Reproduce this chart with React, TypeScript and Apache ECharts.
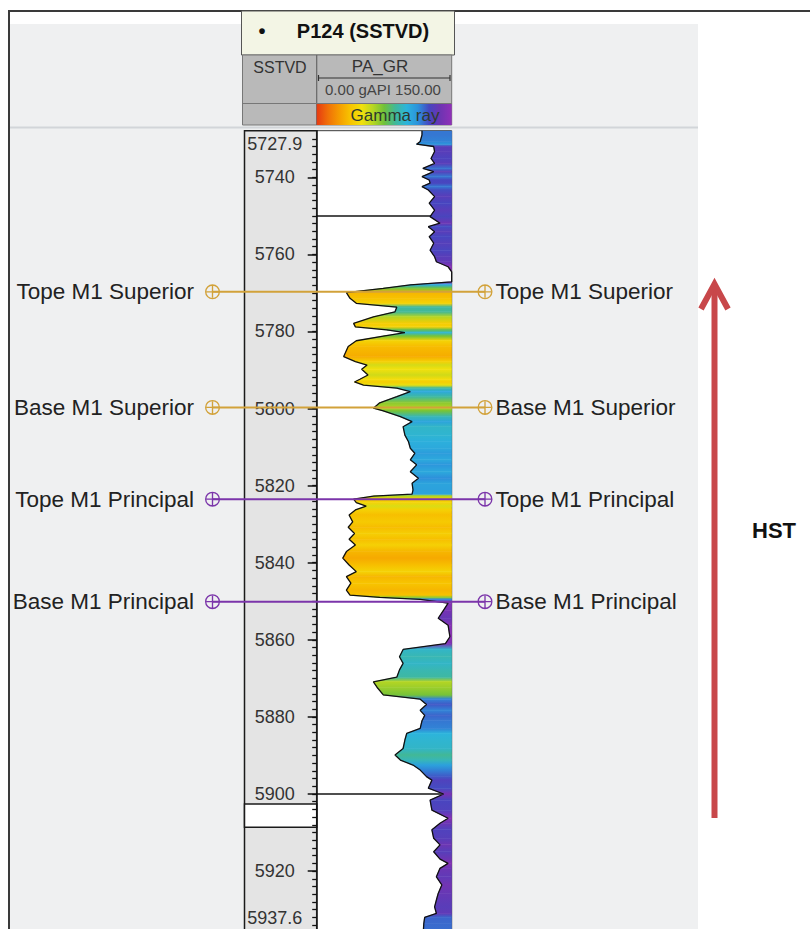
import React, { useEffect, useRef } from "react";
import * as echarts from "echarts";

// Depth window of the log (SSTVD, metres) and gamma-ray scale (gAPI)
const DEPTH_MIN = 5727.9;
const DEPTH_MAX = 5937.6;
const GR_MIN = 0;
const GR_MAX = 150;

const depthLabels = [5740, 5760, 5780, 5800, 5820, 5840, 5860, 5880, 5900, 5920];
const depthEdgeLabels = [5727.9, 5937.6];

// PA_GR curve samples
const grDepth = [
  5727.9, 5729.0, 5730.7, 5731.4, 5732.0, 5733.3, 5735.1, 5736.4, 5737.7, 5738.5,
  5739.8, 5740.7, 5741.5, 5742.4, 5743.3, 5745.0, 5746.7, 5748.5, 5750.2, 5751.9,
  5752.8, 5754.1, 5755.4, 5757.1, 5758.9, 5760.6, 5761.9, 5763.2, 5764.5, 5767.1,
  5767.9, 5768.8, 5769.9, 5771.4, 5772.7, 5773.7, 5774.9, 5776.2, 5777.9, 5778.8,
  5779.6, 5780.3, 5781.2, 5782.4, 5783.9, 5786.5, 5787.8, 5788.7, 5789.8, 5791.3,
  5792.4, 5793.1, 5793.9, 5794.7, 5795.6, 5796.9, 5798.5, 5799.9, 5800.6, 5802.1,
  5803.4, 5804.7, 5806.9, 5808.6, 5810.3, 5811.6, 5813.3, 5814.6, 5816.4, 5818.1,
  5819.4, 5821.1, 5822.2, 5822.7, 5823.5, 5824.4, 5825.3, 5826.3, 5827.6, 5829.4,
  5830.8, 5832.4, 5833.9, 5835.4, 5837.1, 5838.8, 5840.6, 5842.3, 5843.6, 5845.3,
  5847.1, 5848.4, 5849.0, 5849.5, 5850.5, 5852.3, 5854.4, 5856.2, 5859.2, 5861.0,
  5862.5, 5864.4, 5866.1, 5867.8, 5869.7, 5870.9, 5872.3, 5874.3, 5875.4, 5876.8,
  5878.3, 5879.6, 5881.0, 5883.0, 5884.3, 5886.0, 5888.2, 5889.9, 5891.2, 5892.5,
  5893.8, 5895.5, 5896.4, 5898.5, 5900.0, 5901.6, 5904.2, 5906.3, 5907.6, 5909.3,
  5911.5, 5913.2, 5915.0, 5916.9, 5918.0, 5919.3, 5921.5, 5923.6, 5925.8, 5927.5,
  5929.3, 5931.0, 5932.0, 5933.6, 5937.6,
];
const grValue = [
  117, 117, 115, 111, 130, 131, 127, 131, 118, 130,
  117, 125, 126, 117, 124, 131, 125, 131, 126, 137,
  124, 131, 125, 130, 126, 131, 133, 146, 150, 150,
  104, 74, 33, 37, 44, 89, 87, 63, 41, 43,
  78, 98, 74, 44, 35, 30, 43, 56, 50, 57,
  48, 42, 52, 89, 104, 89, 70, 63, 74, 93,
  106, 96, 98, 102, 104, 109, 104, 111, 104, 113,
  106, 107, 106, 63, 41, 44, 55, 43, 36, 40,
  35, 42, 36, 43, 33, 29, 36, 44, 33, 38,
  33, 37, 70, 115, 146, 141, 135, 146, 148, 143,
  96, 92, 96, 92, 89, 63, 67, 74, 115, 122,
  115, 120, 117, 115, 100, 98, 96, 87, 93, 107,
  115, 122, 128, 124, 141, 126, 128, 146, 137, 128,
  130, 137, 130, 137, 146, 137, 133, 139, 135, 133,
  131, 133, 120, 119, 118,
];

// Well tops
const markerNames = ["Tope M1 Superior", "Base M1 Superior", "Tope M1 Principal", "Base M1 Principal"];
const markerDepths = [5769.7, 5799.7, 5823.5, 5850.1];
const markerColors = ["#d2a23a", "#d2a23a", "#7b35aa", "#7b35aa"];

// Zone boundaries drawn across the GR track, and the gap in the depth track
const zoneBoundaries = [5750, 5900];
const depthGap = [5902.6, 5908.6];

// Gamma-ray colour ramp, low (sand) to high (shale), 0..150 in equal steps
const grColorRamp = [
  "#e63a12", "#f07008", "#f59c00", "#f7c400", "#f2e00c", "#b6d622", "#70c13a",
  "#40b89a", "#2cb4dc", "#2c92dc", "#4646c0", "#6e34b2", "#9030b8",
];

const FONT = "'Liberation Sans', Arial, sans-serif";

const grColor = (v: number) =>
  echarts.color.lerp(Math.min(1, Math.max(0, (v - GR_MIN) / (GR_MAX - GR_MIN))), grColorRamp) as string;

// Circle with a cross, used as the well-top marker symbol
const TOP_SYMBOL =
  "path://M10,0 A10,10 0 1,1 10,20 A10,10 0 1,1 10,0 Z " +
  "M10,1.8 A8.2,8.2 0 1,0 10,18.2 A8.2,8.2 0 1,0 10,1.8 Z " +
  "M1.95,9.1 L18.05,9.1 L18.05,10.9 L1.95,10.9 Z " +
  "M9.1,1.95 L10.9,1.95 L10.9,18.05 L9.1,18.05 Z";

const TRACK_TOP = 130.7;
const TRACK_HEIGHT = 808.2;
const DEPTH_LEFT = 244.5;
const DEPTH_RIGHT = 316.7;

export default function App() {
  const ref = useRef<HTMLDivElement>(null);

  useEffect(() => {
    if (!ref.current) return;
    const chart = echarts.init(ref.current, undefined, { renderer: "svg" });

    const minorTicks: number[] = [];
    for (let d = 5730; d <= 5936; d += 2) minorTicks.push(d);

    const grData = grValue.map((v, i) => [v, grDepth[i]]);
    const rampStops = grColorRamp.map((c, i) => ({ offset: i / (grColorRamp.length - 1), color: c }));

    const boundarySeries = zoneBoundaries.map((d) => ({
      type: "line",
      xAxisIndex: 1,
      yAxisIndex: 1,
      z: 1,
      silent: true,
      symbol: "none",
      data: [[GR_MIN, d], [GR_MAX, d]],
      lineStyle: { color: "#151515", width: 1.5 },
    }));

    const markerSeries = markerNames.map((name, i) => ({
      type: "line",
      xAxisIndex: 2,
      yAxisIndex: 2,
      z: 6,
      silent: true,
      symbol: TOP_SYMBOL,
      symbolSize: 15,
      symbolKeepAspect: true,
      itemStyle: { color: markerColors[i], borderWidth: 0 },
      lineStyle: { color: markerColors[i], width: 2 },
      emphasis: { disabled: true },
      data: [
        { value: [0, markerDepths[i]], label: { show: true, position: "left", distance: 11, formatter: name } },
        { value: [1, markerDepths[i]], label: { show: true, position: "right", distance: 3, formatter: name } },
      ],
      label: { fontSize: 22.5, color: "#222", fontFamily: FONT },
    }));

    const depthLabelValues = [depthEdgeLabels[0], ...depthLabels, depthEdgeLabels[1]];
    const labelText = { fontSize: 18, color: "#333", fontFamily: FONT };

    // Narrow grids sitting on the right edge of the depth track carry its ticks and labels
    const depthScaleAxis = {
      type: "value", inverse: true, min: DEPTH_MIN, max: DEPTH_MAX, position: "left", z: 5,
      splitLine: { show: false },
    };

    // the tracks run past the bottom of the page, so grids are not pulled back inside it
    const trackGrid = { top: TRACK_TOP, height: TRACK_HEIGHT, outerBoundsMode: "none", containLabel: false };

    const option: any = {
      animation: false,
      backgroundColor: "#ffffff",
      grid: [
        {
          ...trackGrid, left: DEPTH_LEFT, width: DEPTH_RIGHT - DEPTH_LEFT, z: 1,
          show: true, backgroundColor: "#e4e4e4", borderColor: "#1a1a1a", borderWidth: 1.5,
        },
        {
          ...trackGrid, left: DEPTH_RIGHT, width: 135, z: 1,
          show: true, backgroundColor: "#ffffff", borderColor: "#3a3a3a", borderWidth: 1,
        },
        { ...trackGrid, left: 212.5, width: 272.5, show: false },
        { ...trackGrid, left: DEPTH_RIGHT, width: 1, show: false },
        { ...trackGrid, left: DEPTH_RIGHT, width: 1, show: false },
      ],
      xAxis: [
        { gridIndex: 0, type: "value", min: 0, max: 1, show: false },
        {
          gridIndex: 1, type: "value", min: GR_MIN, max: GR_MAX, interval: 30,
          axisLine: { show: false }, axisTick: { show: false }, axisLabel: { show: false },
          splitLine: { show: true, showMinLine: false, showMaxLine: false, lineStyle: { color: "#a2a2a2", width: 1.6 } },
        },
        { gridIndex: 2, type: "value", min: 0, max: 1, show: false },
        { gridIndex: 3, type: "value", min: 0, max: 1, show: false },
        { gridIndex: 4, type: "value", min: 0, max: 1, show: false },
      ],
      yAxis: [
        { gridIndex: 0, type: "value", inverse: true, min: DEPTH_MIN, max: DEPTH_MAX, show: false },
        { gridIndex: 1, type: "value", inverse: true, min: DEPTH_MIN, max: DEPTH_MAX, show: false },
        { gridIndex: 2, type: "value", inverse: true, min: DEPTH_MIN, max: DEPTH_MAX, show: false },
        {
          ...depthScaleAxis,
          gridIndex: 3,
          axisLine: { show: true, lineStyle: { color: "#111", width: 1.5 } },
          axisTick: { show: true, inside: false, length: 9, customValues: depthLabels, lineStyle: { color: "#111", width: 1.5 } },
          axisLabel: {
            show: true, inside: false, margin: 42, align: "center", customValues: depthLabelValues,
            ...labelText,
            formatter: (v: number) => {
              if (Math.abs(v - depthEdgeLabels[0]) < 1e-6) return "{top|" + v.toFixed(1) + "}";
              if (Math.abs(v - depthEdgeLabels[1]) < 1e-6) return "{bottom|" + v.toFixed(1) + "}";
              return String(v);
            },
            rich: {
              top: { ...labelText, padding: [26, 0, 0, 0] },
              bottom: { ...labelText, padding: [0, 0, 42, 0] },
            },
          },
        },
        {
          ...depthScaleAxis,
          gridIndex: 4,
          axisLine: { show: false },
          axisTick: { show: true, inside: false, length: 4.5, customValues: minorTicks, lineStyle: { color: "#111", width: 1.3 } },
          axisLabel: { show: false },
        },
      ],
      series: [
        {
          // blank interval in the depth track
          type: "custom",
          xAxisIndex: 0,
          yAxisIndex: 0,
          z: 2,
          silent: true,
          data: [[depthGap[0], depthGap[1]]],
          renderItem: (params: any, api: any) => {
            const p0 = api.coord([0, api.value(0)]);
            const p1 = api.coord([1, api.value(1)]);
            return {
              type: "rect",
              shape: { x: p0[0], y: p0[1], width: p1[0] - p0[0], height: p1[1] - p0[1] },
              style: { fill: "#ffffff", stroke: "#1a1a1a", lineWidth: 1.5 },
            };
          },
        },
        ...boundarySeries,
        {
          type: "custom",
          xAxisIndex: 1,
          yAxisIndex: 1,
          z: 2,
          silent: true,
          clip: true,
          encode: { x: 0, y: 1 },
          data: grData,
          renderItem: (params: any, api: any) => {
            const i = params.dataIndex;
            if (i >= grValue.length - 1) return null;
            const a = api.coord([grValue[i], grDepth[i]]);
            const b = api.coord([grValue[i + 1], grDepth[i + 1]]);
            const ar = api.coord([GR_MAX, grDepth[i]]);
            const br = api.coord([GR_MAX, grDepth[i + 1]]);
            const fill = new echarts.graphic.LinearGradient(0, 0, 0, 1, [
              { offset: 0, color: grColor(grValue[i]) },
              { offset: 1, color: grColor(grValue[i + 1]) },
            ]);
            return {
              type: "polygon",
              shape: { points: [a, b, br, ar] },
              style: { fill, stroke: fill, lineWidth: 0.6 },
            };
          },
        },
        {
          type: "line",
          xAxisIndex: 1,
          yAxisIndex: 1,
          z: 3,
          silent: true,
          symbol: "none",
          data: grData,
          lineStyle: { color: "#111", width: 1.3 },
        },
        ...markerSeries,
      ],
      graphic: [
        // panel background and frame
        { type: "rect", z: -10, silent: true, shape: { x: 10, y: 24, width: 688, height: 905 }, style: { fill: "#eff0f1" } },
        { type: "line", z: 10, silent: true, shape: { x1: 8, y1: 11, x2: 810, y2: 11 }, style: { stroke: "#3a3a3a", lineWidth: 2 } },
        { type: "line", z: 10, silent: true, shape: { x1: 9, y1: 11, x2: 9, y2: 929 }, style: { stroke: "#3a3a3a", lineWidth: 2 } },
        // well title
        { type: "rect", z: 10, silent: true, shape: { x: 241.5, y: 11, width: 213, height: 44 }, style: { fill: "#f3f5e5", stroke: "#555", lineWidth: 1 } },
        { type: "text", z: 11, silent: true, style: { x: 262, y: 31, text: "•", fontSize: 20, fontWeight: "bold", fontFamily: FONT, fill: "#111", align: "center", verticalAlign: "middle" } },
        { type: "text", z: 11, silent: true, style: { x: 363, y: 31, text: "P124 (SSTVD)", fontSize: 20, fontWeight: "bold", fontFamily: FONT, fill: "#111", align: "center", verticalAlign: "middle" } },
        // track headers
        { type: "rect", z: 10, silent: true, shape: { x: 242.5, y: 55, width: 209.2, height: 70 }, style: { fill: "#b9b9b9", stroke: "#777", lineWidth: 1 } },
        { type: "line", z: 11, silent: true, shape: { x1: 316.7, y1: 55, x2: 316.7, y2: 125 }, style: { stroke: "#666", lineWidth: 1.2 } },
        { type: "line", z: 11, silent: true, shape: { x1: 242.5, y1: 103.5, x2: 451.7, y2: 103.5 }, style: { stroke: "#777", lineWidth: 1 } },
        { type: "text", z: 11, silent: true, style: { x: 280, y: 67, text: "SSTVD", fontSize: 16, fontFamily: FONT, fill: "#333", align: "center", verticalAlign: "middle" } },
        { type: "text", z: 11, silent: true, style: { x: 380, y: 66, text: "PA_GR", fontSize: 17, fontFamily: FONT, fill: "#333", align: "center", verticalAlign: "middle" } },
        { type: "line", z: 11, silent: true, shape: { x1: 318.5, y1: 78, x2: 450, y2: 78 }, style: { stroke: "#333", lineWidth: 1.2 } },
        { type: "line", z: 11, silent: true, shape: { x1: 318.5, y1: 75, x2: 318.5, y2: 81 }, style: { stroke: "#333", lineWidth: 1.2 } },
        { type: "line", z: 11, silent: true, shape: { x1: 450, y1: 75, x2: 450, y2: 81 }, style: { stroke: "#333", lineWidth: 1.2 } },
        { type: "text", z: 11, silent: true, style: { x: 383, y: 89, text: "0.00 gAPI 150.00", fontSize: 15, fontFamily: FONT, fill: "#444", align: "center", verticalAlign: "middle" } },
        {
          type: "rect", z: 11, silent: true, shape: { x: 316.7, y: 104, width: 135, height: 21 },
          style: { fill: new echarts.graphic.LinearGradient(0, 0, 1, 0, rampStops) },
        },
        { type: "text", z: 12, silent: true, style: { x: 395, y: 115, text: "Gamma ray", fontSize: 17, fontFamily: FONT, fill: "#2e3a2e", align: "center", verticalAlign: "middle" } },
        { type: "line", z: 10, silent: true, shape: { x1: 10, y1: 127.5, x2: 698, y2: 127.5 }, style: { stroke: "#d2d5d9", lineWidth: 2 } },
        // HST arrow
        { type: "line", z: 10, silent: true, shape: { x1: 714.5, y1: 818, x2: 714.5, y2: 288 }, style: { stroke: "#c8474a", lineWidth: 6 } },
        {
          type: "polyline", z: 10, silent: true, shape: { points: [[701, 309], [714.5, 284], [728, 309]] },
          style: { stroke: "#c8474a", lineWidth: 6, lineJoin: "miter", fill: null },
        },
        { type: "text", z: 10, silent: true, style: { x: 752, y: 530, text: "HST", fontSize: 22, fontWeight: "bold", fontFamily: FONT, fill: "#111", verticalAlign: "middle" } },
      ],
    };

    chart.setOption(option);
    return () => chart.dispose();
  }, []);

  return <div ref={ref} style={{ position: "absolute", left: 0, top: 0, width: 810, height: 929 }} />;
}
